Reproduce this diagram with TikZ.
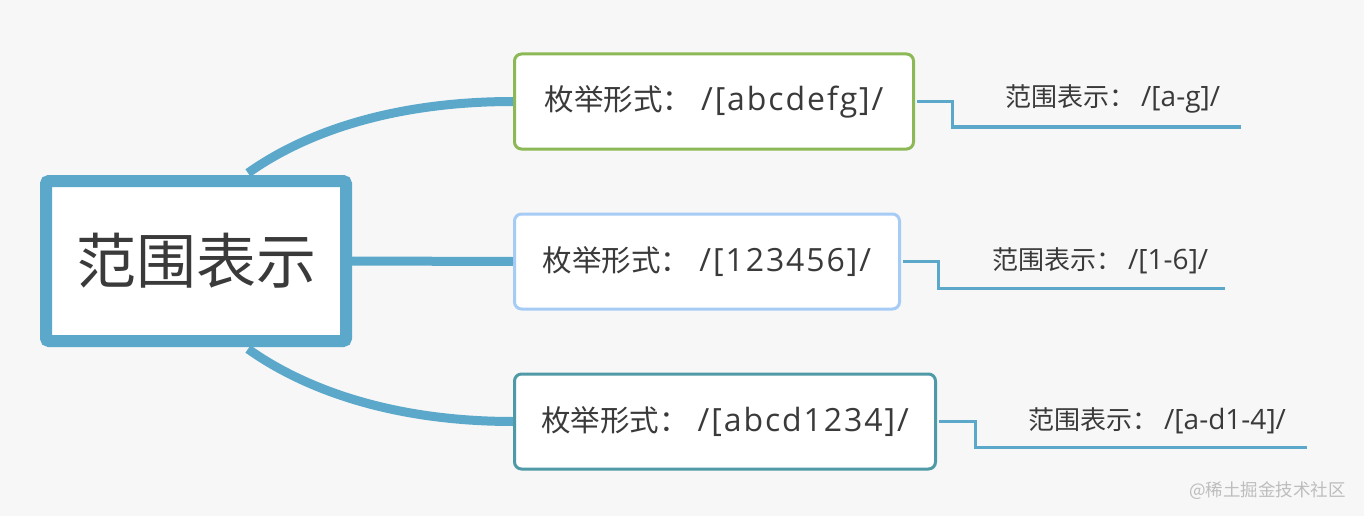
\documentclass[tikz,border=0pt]{standalone}
\usepackage{fontspec}
\setmainfont{Open Sans}
\newfontfamily\cjk{Noto Sans CJK SC}
\newfontfamily\widelatin{Open Sans}[LetterSpace=6]
\usetikzlibrary{positioning}
\definecolor{bgcol}{HTML}{F7F7F7}
\definecolor{linkblue}{HTML}{5BA8CB}
\definecolor{topicgreen}{HTML}{8CB955}
\definecolor{topiclight}{HTML}{A6CCF6}
\definecolor{topicteal}{HTML}{4F9AA6}
\definecolor{textgray}{HTML}{3A3A3A}
\definecolor{markgray}{HTML}{BDBDBD}
\newcommand{\topichead}{{\cjk\fontsize{29.5}{36}\selectfont 枚举形式：}\hspace{9pt}}
\newcommand{\leafhead}{{\cjk\fontsize{26}{31}\selectfont 范围表示：}\hspace{6pt}}
\tikzstyle{root} = [rectangle, rounded corners=3pt, minimum width=300pt, minimum height=160pt, draw=linkblue, line width=12pt, fill=white, text=textgray, font=\cjk\fontsize{60}{72}\selectfont]
\tikzstyle{topic} = [rectangle, rounded corners=7pt, minimum height=95pt, line width=3pt, fill=white, text=textgray, font=\widelatin\fontsize{32}{38}\selectfont, inner xsep=0pt]
\tikzstyle{leaf} = [inner sep=0pt, anchor=west, text=textgray, font=\fontsize{28}{33}\selectfont]
\tikzstyle{branch} = [line width=9pt, draw=linkblue]
\tikzstyle{twig} = [line width=3pt, draw=linkblue]

\begin{document}
\begin{tikzpicture}[x=1pt, y=-1pt]

\fill [bgcol] (0,0) rectangle (1364,516);
\useasboundingbox (0,0) rectangle (1364,516);

%% NODES

\node (root) [root] at (196,261) {范围表示};
\node (b1) [topic, draw=topicgreen, minimum width=399pt] at (714,101.5) {\topichead/[abcdefg]/};
\node (b2) [topic, draw=topiclight, minimum width=385pt] at (707,261.5) {\topichead/[123456]/};
\node (b3) [topic, draw=topicteal, minimum width=421pt] at (725,421.5) {\topichead/[abcd1234]/};
\node (l1) [leaf] at (1005,99) {\leafhead/[a-g]/};
\node (l2) [leaf] at (992,260.5) {\leafhead/[1-6]/};
\node (l3) [leaf] at (1028,420.5) {\leafhead/[a-d1-4]/};
\coordinate (l1end) at (1241,127);
\coordinate (l2end) at (1225,288);
\coordinate (l3end) at (1307,447);
\node (mark) [text=markgray, font=\cjk\fontsize{17.5}{21}\selectfont, anchor=east, inner sep=0pt] at (1346,491) {@稀土掘金技术社区};

%% ARROWS

\draw [branch] ([xshift=52pt, yshift=2pt]root.north) .. controls +(62,-44) and +(-113,0) .. (b1.west);
\draw [branch] (root.east) -- (b2.west);
\draw [branch] ([xshift=52pt, yshift=-2pt]root.south) .. controls +(62,44) and +(-113,0) .. (b3.west);

\draw [twig] ([xshift=1.5pt]b1.east) -- ++(36,0) |- (l1end);
\draw [twig] ([xshift=1.5pt]b2.east) -- ++(36,0) |- (l2end);
\draw [twig] ([xshift=1.5pt]b3.east) -- ++(37,0) |- (l3end);

\end{tikzpicture}
\end{document}
